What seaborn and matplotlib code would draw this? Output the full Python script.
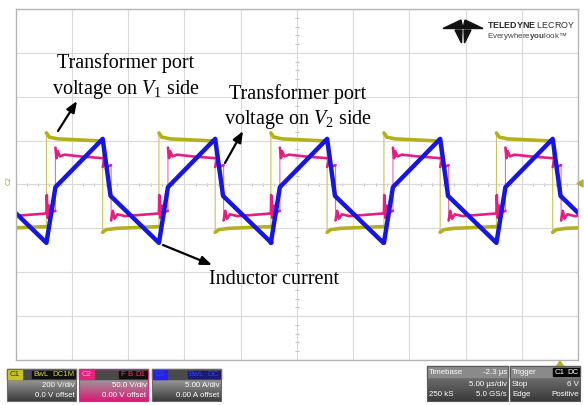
import numpy as np
import pandas as pd
import matplotlib
matplotlib.use("Agg")
import matplotlib.pyplot as plt
import seaborn as sns
from matplotlib.patches import Rectangle, Polygon
from matplotlib.colors import LinearSegmentedColormap

# ---------------- data ----------------
time_per_div_us = 5.0
c1_volts_per_div = 200.0
c2_volts_per_div = 50.0
c3_amps_per_div = 5.0

# start of each switching period (rising edge of C1), µs
period_start_us = [-32.25, -22.25, -12.25, -2.3, 7.75, 17.75]

# C1: transformer port voltage on V1 side (one period, relative to C1 rising edge)
c1_dt_us = [0.0, 0.0, 0.25, 1.0, 3.0, 5.0, 5.0, 5.3, 6.2, 8.0, 10.0]
c1_volts = [-192, 235, 216, 208, 203, 198, -218, -206, -200, -196, -192]

# C2: transformer port voltage on V2 side
c2_dt_us = [0.0, 0.03, 0.12, 0.25, 0.4, 0.8, 0.8, 0.9, 1.0, 1.2, 1.6, 3.0, 5.0,
            5.0, 5.15, 5.35, 5.75, 5.75, 5.9, 6.05, 6.3, 7.0, 9.0, 10.0]
c2_volts = [-33, -12, -38, -24, -32, -30, 42, 30, 38, 32, 34, 32, 30,
            20, 27, 20, 22, -41, -30, -39, -34, -36, -34, -33]

# C3: inductor current
c3_dt_us = [0.0, 0.8, 5.0, 5.7, 10.0]
c3_amps = [-6.65, -0.3, 5.2, -1.3, -6.65]

# ---------------- figure ----------------
W, H = 584, 405
sns.set_theme(style="white")
plt.rcParams["font.family"] = ["Liberation Serif", "DejaVu Sans"]
plt.rcParams["mathtext.fontset"] = "custom"
plt.rcParams["mathtext.rm"] = "Liberation Serif"
plt.rcParams["mathtext.it"] = "Liberation Serif:italic"
plt.rcParams["mathtext.bf"] = "Liberation Sans:bold"

fig = plt.figure(figsize=(W / 100, H / 100), dpi=100)
fig.patch.set_facecolor("white")

L, R, T, B = 15.5, 578.0, 9.0, 360.0
ax = fig.add_axes([L / W, (H - B) / H, (R - L) / W, (B - T) / H])
ax.set_facecolor("white")


def build(dt, vals, scale):
    t, v = [], []
    for p in period_start_us:
        for d, y in zip(dt, vals):
            t.append(p + d)
            v.append(y / scale)
    # split into level pieces at exact vertical edges
    units, u = [], 0
    for i in range(len(t)):
        if i > 0 and t[i] == t[i - 1]:
            u += 1
        units.append(u)
    return pd.DataFrame({"t": t, "div": v, "unit": units})


d1 = build(c1_dt_us, c1_volts, c1_volts_per_div)
d2 = build(c2_dt_us, c2_volts, c2_volts_per_div)
d3 = build(c3_dt_us, c3_amps, c3_amps_per_div)

YEL, PNK, BLU = "#b4b01c", "#e81c82", "#1515e6"

# thin full traces (fast edges), then thick level pieces
sns.lineplot(data=d1, x="t", y="div", estimator=None, sort=False, color="#c9c45a",
             linewidth=0.8, ax=ax, legend=False)
sns.lineplot(data=d1, x="t", y="div", units="unit", estimator=None, sort=False,
             color=YEL, linewidth=2.6, ax=ax, legend=False)
sns.lineplot(data=d2, x="t", y="div", estimator=None, sort=False, color="#e070b4",
             linewidth=0.8, ax=ax, legend=False)
sns.lineplot(data=d2, x="t", y="div", units="unit", estimator=None, sort=False,
             color=PNK, linewidth=1.9, ax=ax, legend=False)
sns.lineplot(data=d3, x="t", y="div", estimator=None, sort=False, color=BLU,
             linewidth=3.2, ax=ax, legend=False)

ax.set_xlim(-5 * time_per_div_us, 5 * time_per_div_us)
ax.set_ylim(-4, 4)
ax.set_xticks(np.arange(-25, 25.1, time_per_div_us))
ax.set_yticks(np.arange(-4, 4.1, 1))
ax.tick_params(length=0, labelbottom=False, labelleft=False)
ax.set_xlabel("")
ax.set_ylabel("")
ax.grid(True, color="#d9d9d9", lw=0.8)
ax.set_axisbelow(True)
for s in ax.spines.values():
    s.set_color("#b5b5b5")
    s.set_linewidth(1.0)
# centre graticule tick marks
ax.hlines(np.arange(-4, 4.01, 0.2), -0.16, 0.16, color="#bdbdbd", lw=0.8, zorder=0.5)
ax.vlines(np.arange(-25, 25.01, 1.0), -0.045, 0.045, color="#bdbdbd", lw=0.8, zorder=0.5)

# ---------------- overlay in pixel coordinates ----------------
ov = fig.add_axes([0, 0, 1, 1], zorder=5)
ov.set_xlim(0, W)
ov.set_ylim(H, 0)
ov.axis("off")
ov.patch.set_alpha(0)

# annotations
ann = dict(fontsize=14.5, color="black", family="Liberation Serif",
           ha="center", va="center", linespacing=1.3)
ov.text(126, 77, "Transformer port\nvoltage on $V_{\\mathit{1}}$ side", **ann)
ov.text(298, 107.5, "Transformer port\nvoltage on $V_{\\mathit{2}}$ side", **ann)
ov.text(274, 280, "Inductor current", **ann)
arrow = dict(arrowstyle="-|>,head_length=0.55,head_width=0.22", color="black",
             lw=1.6, shrinkA=0, shrinkB=0)
ov.annotate("", xy=(77, 101), xytext=(58, 131), arrowprops=arrow)
ov.annotate("", xy=(243, 131), xytext=(225, 163), arrowprops=arrow)
ov.annotate("", xy=(212, 265), xytext=(163, 245), arrowprops=arrow)

# channel markers
ov.text(9, 180, "C2", rotation=90, fontsize=5, color="#a8a420", family="DejaVu Sans",
        ha="center", va="center")
ov.add_patch(Polygon([(577, 183.5), (583, 180), (583, 187)], closed=True, color="#b8b020"))
ov.add_patch(Polygon([(560, 361), (556, 367), (564, 367)], closed=True, color="#b8b020"))

# logo
logo_c = "#111111"
for pts in ([(443, 28.5), (461, 20), (463, 28.5)],
            [(483, 28.5), (465, 20), (463, 28.5)],
            [(455, 30), (462, 30), (461.5, 43)],
            [(464, 30), (471, 30), (464.5, 43)]):
    ov.add_patch(Polygon(pts, closed=True, color=logo_c))

ov.text(487, 28, "$\\mathbf{TELEDYNE}$ LECROY", fontsize=6.4, color="#2a2a2a",
        family="Liberation Sans", ha="left", va="baseline")
ov.text(487, 37.5, "Everywhere$\\mathbf{you}$look\u2122", fontsize=5.8, color="#444444",
        family="Liberation Sans", ha="left", va="baseline")

# status bar boxes
SF = dict(family="Liberation Sans", fontsize=5.7)


def grad(x0, y0, x1, y1, ctop, cbot):
    cm = LinearSegmentedColormap.from_list("g", [ctop, cbot])
    ov.imshow(np.linspace(0, 1, 64).reshape(-1, 1), cmap=cm, extent=(x0, x1, y1, y0),
              aspect="auto", interpolation="bilinear", zorder=1)


def badge(x0, x1, y0, y1, txt, bg, fg):
    ov.add_patch(Rectangle((x0, y0), x1 - x0, y1 - y0, color=bg, zorder=3))
    ov.text((x0 + x1) / 2, (y0 + y1) / 2 + 0.3, txt, color=fg, ha="center", va="center",
            zorder=4, **SF)


def chan_box(x0, x1, lab, lab_bg, lab_fg, badges, line1, line2, body_bot, border):
    grad(x0, 379, x1, 401, "#9a9a9a", body_bot)
    ov.add_patch(Rectangle((x0, 369), x1 - x0, 10, color="#4a4a4a", zorder=2))
    ov.add_patch(Rectangle((x0, 369), x1 - x0, 32, fill=False, ec=border, lw=0.8, zorder=5))
    badge(x0 + 0.5, x0 + 15, 369.5, 378.5, lab, lab_bg, lab_fg)
    for bx0, bx1, txt, bg, fg in badges:
        badge(bx0, bx1, 370.5, 378, txt, bg, fg)
    ov.text(x1 - 1.5, 385.5, line1, color="white", ha="right", va="center", zorder=4, **SF)
    ov.text(x1 - 1.5, 395.5, line2, color="white", ha="right", va="center", zorder=4, **SF)


chan_box(7, 76, "C1", "#c8c428", "#333300",
         [(32, 50, "BwL", "#101010", "#d6d23a"), (51, 75, "DC1M", "#101010", "#d6d23a")],
         "200 V/div", "0.0 V offset", "#3c3c3c", "#6a6a6a")
chan_box(79, 148, "C2", "#e8207e", "#ffb0d4",
         [(119, 126, "F", "#101010", "#ff3068"), (127, 133, "B", "#101010", "#ff3068"),
          (134, 147, "D1", "#101010", "#ff3068")],
         "50.0 V/div", "0.00 V offset", "#d81c78", "#e8207e")
chan_box(152, 221, "C3", "#2424e0", "#3a3aff",
         [(188, 205, "BwL", "#1a1a7a", "#3a3aff"), (206, 220, "DC", "#1a1a7a", "#3a3aff")],
         "5.00 A/div", "0.00 A offset", "#3c3c3c", "#6a6a6a")

for x0, x1 in ((427, 508), (510, 580)):
    grad(x0, 377, x1, 401, "#6e6e6e", "#3a3a3a")
    ov.add_patch(Rectangle((x0, 366), x1 - x0, 11, color="#8a8a8a", zorder=2))
    ov.add_patch(Rectangle((x0, 366), x1 - x0, 35, fill=False, ec="#5a5a5a", lw=0.8, zorder=5))

ov.text(429, 372, "Timebase", color="white", ha="left", va="center", zorder=4, **SF)
ov.text(507, 372, "-2.3 \u00b5s", color="white", ha="right", va="center", zorder=4, **SF)
ov.text(507, 384, "5.00 \u00b5s/div", color="white", ha="right", va="center", zorder=4, **SF)
ov.text(429, 394, "250 kS", color="white", ha="left", va="center", zorder=4, **SF)
ov.text(507, 394, "5.0 GS/s", color="white", ha="right", va="center", zorder=4, **SF)

ov.text(512, 372, "Trigger", color="white", ha="left", va="center", zorder=4, **SF)
badge(553, 567, 367.5, 376, "C1", "#050505", "white")
badge(567.5, 579, 367.5, 376, "DC", "#050505", "white")
ov.text(512, 384, "Stop", color="white", ha="left", va="center", zorder=4, **SF)
ov.text(579, 384, "6 V", color="white", ha="right", va="center", zorder=4, **SF)
ov.text(512, 394, "Edge", color="white", ha="left", va="center", zorder=4, **SF)
ov.text(579, 394, "Positive", color="white", ha="right", va="center", zorder=4, **SF)

ov.set_xlim(0, W)
ov.set_ylim(H, 0)

fig.savefig("out.png", dpi=100)
